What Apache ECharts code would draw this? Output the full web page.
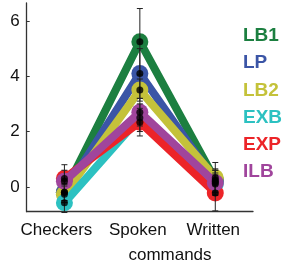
<!DOCTYPE html>
<html><head><meta charset="utf-8">
<script src="https://cdn.jsdelivr.net/npm/echarts@6/dist/echarts.min.js"></script>
<style>html,body{margin:0;padding:0;background:#fff}#c{width:284px;height:264px}</style>
</head><body><div id="c"></div>
<script>
var categories = ['Checkers', 'Spoken', 'Written'];
var seriesNames = ['LB1', 'LP', 'LB2', 'EXB', 'EXP', 'ILB'];
var colors = ['#1c7f40', '#3b55a6', '#c4c23a', '#2cc1c1', '#ec2428', '#a0459c'];
var LB1 = [-0.2, 5.25, 0.25];
var LP  = [-0.2, 4.1, 0.2];
var LB2 = [-0.27, 3.5, 0.33];
var EXB = [-0.58, 2.5, 0.1];
var EXP = [0.3, 2.34, -0.22];
var ILB = [0.2, 2.7, 0.15];
var errLB1 = [0.3, 1.2, 0.4];
var errLP  = [0.3, 0.9, 0.4];
var errLB2 = [0.3, 0.4, 0.55];
var errEXB = [0.35, 0.5, 0.4];
var errEXP = [0.5, 0.5, 0.65];
var errILB = [0.4, 0.5, 0.45];
var yTicks = [0, 2, 4, 6];

var values = [LB1, LP, LB2, EXB, EXP, ILB];
var errs = [errLB1, errLP, errLB2, errEXB, errEXP, errILB];
var FONT = 'Liberation Sans, Arial, Helvetica, sans-serif';

var series = [];
values.forEach(function (v, i) {
  series.push({
    name: seriesNames[i], type: 'line', data: v,
    lineStyle: { width: 8, color: colors[i] },
    itemStyle: { color: colors[i] },
    symbol: 'circle', symbolSize: 17, z: 2 + i * 0.01,
    animation: false
  });
});
var errData = [];
values.forEach(function (v, i) {
  v.forEach(function (y, j) { errData.push([j, y - errs[i][j], y + errs[i][j]]); });
});
series.push({
  type: 'custom', z: 5, animation: false, silent: true,
  data: errData,
  renderItem: function (params, api) {
    var x = api.coord([api.value(0), 0])[0];
    var lo = api.coord([api.value(0), api.value(1)])[1];
    var hi = api.coord([api.value(0), api.value(2)])[1];
    var w = 3;
    var st = { stroke: '#222', lineWidth: 1 };
    return { type: 'group', children: [
      { type: 'line', shape: { x1: x, y1: lo, x2: x, y2: hi }, style: st },
      { type: 'line', shape: { x1: x - w, y1: lo, x2: x + w, y2: lo }, style: st },
      { type: 'line', shape: { x1: x - w, y1: hi, x2: x + w, y2: hi }, style: st }
    ] };
  }
});
var dots = [];
values.forEach(function (v) { v.forEach(function (y, j) { dots.push([j, y]); }); });
series.push({ type: 'scatter', data: dots, symbolSize: 7, itemStyle: { color: '#000' }, z: 6, animation: false, silent: true });

var chart = echarts.init(document.getElementById('c'), null, { renderer: 'canvas' });
chart.setOption({
  animation: false,
  grid: { left: 26.7, right: 31, top: 3, bottom: 52.3, containLabel: false },
  legend: {
    orient: 'vertical', left: 233, top: 21.5, icon: 'none', itemWidth: 0, itemHeight: 19, itemGap: 8.2,
    selectedMode: false,
    textStyle: { fontFamily: FONT, fontSize: 19, fontWeight: 'bold' },
    data: seriesNames.map(function (n, i) { return { name: n, textStyle: { color: colors[i] } }; })
  },
  xAxis: {
    type: 'category', data: categories, boundaryGap: true,
    axisLine: { onZero: false, lineStyle: { color: '#333', width: 1.3 } },
    axisTick: { inside: true, alignWithLabel: true, length: 4, lineStyle: { color: '#333' } },
    axisLabel: {
      interval: 0, margin: 10, color: '#111', fontFamily: FONT, fontSize: 17,
      formatter: function (v, i) { return i === 0 ? '{a|' + v + '}' : '{b|' + v + '}'; },
      rich: {
        a: { padding: [0, 16, 0, 0], fontFamily: FONT, fontSize: 17, color: '#111' },
        b: { padding: [0, 4, 0, 0], fontFamily: FONT, fontSize: 17, color: '#111' }
      }
    },
    splitLine: { show: false }
  },
  yAxis: {
    type: 'value', min: -0.9, max: 6.65,
    axisLine: { show: true, lineStyle: { color: '#333', width: 1.3 } },
    axisTick: { show: true, inside: true, length: 3, customValues: yTicks, lineStyle: { color: '#333' } },
    axisLabel: { margin: 7, color: '#111', fontFamily: FONT, fontSize: 17, customValues: yTicks },
    splitLine: { show: false }
  },
  graphic: [{
    type: 'text', x: 170, y: 247,
    style: { text: 'commands', align: 'center', fontFamily: FONT, fontSize: 17, fill: '#111' }
  }],
  series: series
});
</script></body></html>
